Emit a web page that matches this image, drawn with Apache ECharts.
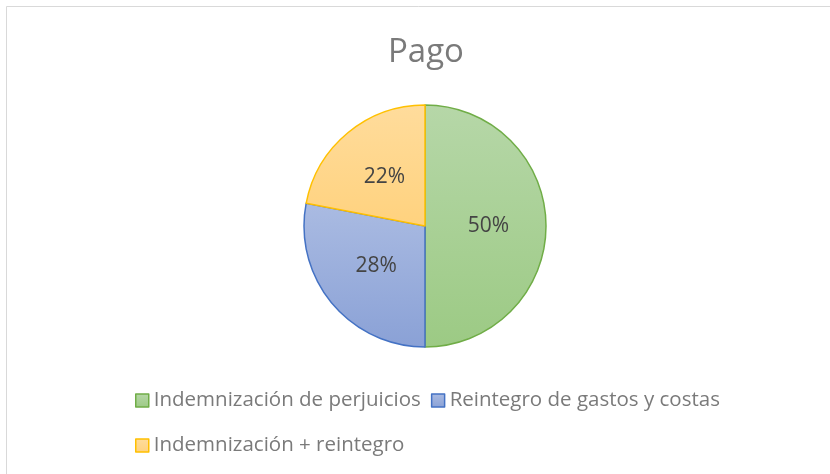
<!DOCTYPE html>
<html>
<head>
<meta charset="utf-8">
<script src="https://cdn.jsdelivr.net/npm/echarts@6/dist/echarts.min.js"></script>
<style>
  html, body { margin: 0; padding: 0; background: #fff; }
  #chart { width: 830px; height: 474px; }
</style>
</head>
<body>
<div id="chart"></div>
<script>
var titleText = 'Pago';
var categories = ['Indemnización de perjuicios', 'Reintegro de gastos y costas', 'Indemnización + reintegro'];
var values = [50, 28, 22];

// colores por porción: [borde, arriba, abajo]
var colors = [
    ['#70ad47', '#b6d7a8', '#9cca84'],
    ['#4472c4', '#aabbe2', '#8aa1d6'],
    ['#ffc000', '#ffdc9c', '#ffd27e']
];

var font = '"Open Sans", "Liberation Sans", sans-serif';
var gray = '#7a7a7a';

var chart = echarts.init(document.getElementById('chart'));

var pieData = [];
for (var i = 0; i < categories.length; i++) {
    pieData.push({
        name: categories[i],
        value: values[i],
        itemStyle: {
            borderColor: colors[i][0],
            borderWidth: 1.5,
            color: new echarts.graphic.LinearGradient(0, 0, 0, 1, [
                { offset: 0, color: colors[i][1] },
                { offset: 1, color: colors[i][2] }
            ])
        }
    });
}

function legendAt(top, names) {
    return {
        left: 130,
        top: top,
        icon: 'rect',
        itemWidth: 13,
        itemHeight: 13,
        itemGap: 10,
        itemStyle: { borderWidth: 1.5 },
        textStyle: {
            fontFamily: font,
            fontSize: 20.5,
            color: gray
        },
        data: names
    };
}

var option = {
    animation: false,
    backgroundColor: '#fff',
    graphic: [{
        type: 'rect',
        shape: { x: 6.5, y: 6.5, width: 900, height: 600 },
        style: { fill: 'none', stroke: '#d9d9d9', lineWidth: 1 },
        silent: true
    }],
    title: {
        text: titleText,
        left: 383,
        top: 31,
        textStyle: {
            fontFamily: font,
            fontSize: 33,
            fontWeight: 'normal',
            color: gray
        }
    },
    legend: [
        legendAt(385, categories.slice(0, 2)),
        legendAt(430, categories.slice(2))
    ],
    series: [{
        type: 'pie',
        center: [425, 226],
        radius: 121,
        startAngle: 90,
        clockwise: true,
        percentPrecision: 0,
        label: {
            show: true,
            position: 'inside',
            formatter: '{d}%',
            fontFamily: font,
            fontSize: 21,
            color: '#444444'
        },
        labelLine: { show: false },
        emphasis: { disabled: true },
        data: pieData
    }]
};

chart.setOption(option);
</script>
</body>
</html>
